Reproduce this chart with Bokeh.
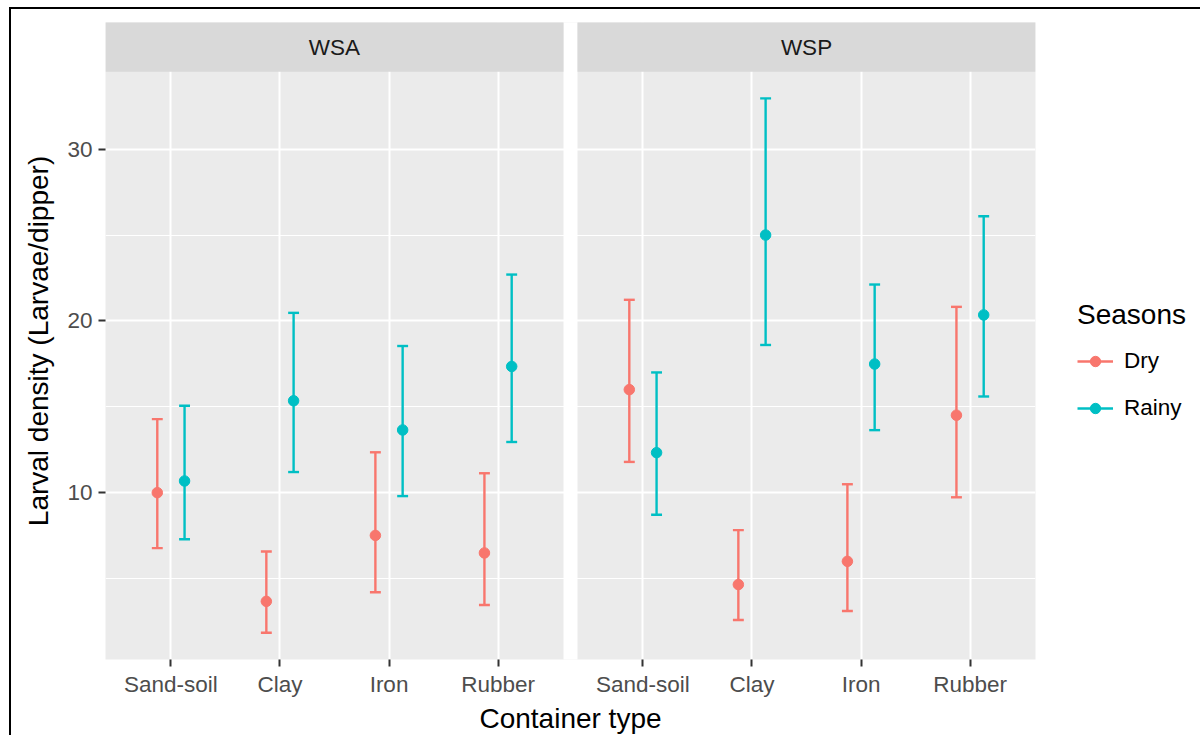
from bokeh.plotting import figure
from bokeh.layouts import column
from bokeh.models import ColumnDataSource, Range1d, FixedTicker, Legend, LegendItem
from bokeh.core.properties import value
from bokeh.embed import file_html
from bokeh.resources import INLINE

# ---------------- data ----------------
containers = ["Sand-soil", "Clay", "Iron", "Rubber"]
sites = ["WSA", "WSP"]
seasons = ["Dry", "Rainy"]
season_colors = ["#F8766D", "#00BFC4"]

wsa_dry_mean = [10.00, 3.67, 7.51, 6.49]
wsa_dry_lower = [6.77, 1.84, 4.20, 3.46]
wsa_dry_upper = [14.28, 6.57, 12.35, 11.13]

wsa_rainy_mean = [10.68, 15.35, 13.65, 17.35]
wsa_rainy_lower = [7.29, 11.20, 9.80, 12.95]
wsa_rainy_upper = [15.06, 20.47, 18.54, 22.70]

wsp_dry_mean = [16.00, 4.65, 6.00, 14.51]
wsp_dry_lower = [11.79, 2.58, 3.11, 9.73]
wsp_dry_upper = [21.23, 7.82, 10.49, 20.82]

wsp_rainy_mean = [12.33, 25.00, 17.49, 20.35]
wsp_rainy_lower = [8.71, 18.60, 13.64, 15.60]
wsp_rainy_upper = [17.00, 32.96, 22.12, 26.10]

y_ticks = [10, 20, 30]
y_minor = [5, 15, 25]

data = {
    ("WSA", "Dry"): (wsa_dry_mean, wsa_dry_lower, wsa_dry_upper),
    ("WSA", "Rainy"): (wsa_rainy_mean, wsa_rainy_lower, wsa_rainy_upper),
    ("WSP", "Dry"): (wsp_dry_mean, wsp_dry_lower, wsp_dry_upper),
    ("WSP", "Rainy"): (wsp_rainy_mean, wsp_rainy_lower, wsp_rainy_upper),
}

# ---------------- layout constants ----------------
FONT = "Liberation Sans"
PANEL_W = 457
GAP_PX = 14
PANEL_H = 586
STRIP_H = 49
DODGE = 0.125
CAP_HALF = 0.05
OFF_X, OFF_Y, BORDER = 9, 7, 2

n = len(containers)
x_lo, x_hi = 1 - 0.6, n + 0.6
panel_span = x_hi - x_lo
gap_u = GAP_PX * panel_span / PANEL_W
panel_offset = panel_span + gap_u
x_end = x_lo + 2 * panel_span + gap_u

all_low = min(min(v[1]) for v in data.values())
all_up = max(max(v[2]) for v in data.values())
yspan = all_up - all_low
y_lo = all_low - 0.05 * yspan
y_hi = all_up + 0.05 * yspan
y_top = y_hi + STRIP_H * (y_hi - y_lo) / PANEL_H

p = figure(
    frame_width=2 * PANEL_W + GAP_PX,
    frame_height=PANEL_H + STRIP_H,
    min_border_left=105 - OFF_X - BORDER, min_border_right=155,
    min_border_top=22 - OFF_Y - BORDER, min_border_bottom=78,
    x_range=Range1d(x_lo, x_end), y_range=Range1d(y_lo, y_top),
    output_backend="svg", toolbar_location=None,
    background_fill_color="#EBEBEB", border_fill_color="white",
    outline_line_color=None,
)
p.margin = (OFF_Y, 0, 0, OFF_X)
p.styles = {"border-top": f"{BORDER}px solid black", "border-left": f"{BORDER}px solid black"}

# gap between panels and strips
p.quad(left=[x_hi], right=[x_hi + gap_u], bottom=[y_lo - 5], top=[y_top + 5],
       fill_color="white", line_color=None)
strip_left = [x_lo + i * panel_offset for i in range(len(sites))]
strip_right = [x_hi + i * panel_offset for i in range(len(sites))]
p.quad(left=strip_left, right=strip_right, bottom=[y_hi] * len(sites), top=[y_top + 5] * len(sites),
       fill_color="#D9D9D9", line_color=None)
p.text(x=[(a + b) / 2 for a, b in zip(strip_left, strip_right)], y=[(y_hi + y_top) / 2] * len(sites),
       text=sites, text_align="center", text_baseline="middle",
       text_font=value(FONT), text_font_size="22.5px", text_color="#1A1A1A")

legend_items = []
for ki, season in enumerate(seasons):
    xs, means, lows, ups = [], [], [], []
    for si, site in enumerate(sites):
        m, lo, up = data[(site, season)]
        for i in range(n):
            xs.append(i + 1 + si * panel_offset + (ki - 0.5) * 2 * DODGE)
            means.append(m[i]); lows.append(lo[i]); ups.append(up[i])
    src = ColumnDataSource(dict(x=xs, mean=means, lower=lows, upper=ups,
                                cl=[x - CAP_HALF for x in xs], cr=[x + CAP_HALF for x in xs]))
    c = season_colors[ki]
    seg = p.segment(x0="x", y0="lower", x1="x", y1="upper", line_color=c, line_width=2.4, source=src)
    p.segment(x0="cl", y0="upper", x1="cr", y1="upper", line_color=c, line_width=2.4, source=src)
    p.segment(x0="cl", y0="lower", x1="cr", y1="lower", line_color=c, line_width=2.4, source=src)
    pts = p.scatter(x="x", y="mean", size=10.5, fill_color=c, line_color=c, source=src)
    legend_items.append(LegendItem(label=season, renderers=[seg, pts]))

# axes
xticks, overrides = [], {}
for si in range(len(sites)):
    for i, name in enumerate(containers):
        t = i + 1 + si * panel_offset
        xticks.append(t)
        overrides[t] = name
p.xaxis.ticker = FixedTicker(ticks=xticks)
p.xaxis.major_label_overrides = overrides
p.yaxis.ticker = FixedTicker(ticks=y_ticks, minor_ticks=y_minor)

for ax in (p.xaxis, p.yaxis):
    ax.axis_line_color = None
    ax.major_tick_line_color = "#333333"
    ax.major_tick_line_width = 2
    ax.major_tick_out = 7
    ax.major_tick_in = 0
    ax.minor_tick_line_color = None
    ax.major_label_text_font = FONT
    ax.major_label_text_font_size = "22.5px"
    ax.major_label_text_color = "#4D4D4D"
    ax.axis_label_text_font = FONT
    ax.axis_label_text_font_size = "28px"
    ax.axis_label_text_font_style = "normal"
    ax.axis_label_text_color = "black"

p.xaxis.axis_label = "Container type"
p.yaxis.axis_label = "Larval density (Larvae/dipper)"
p.xaxis.major_label_standoff = 5
p.yaxis.major_label_standoff = 6
p.xaxis.axis_label_standoff = 3
p.yaxis.axis_label_standoff = 10

p.xgrid.grid_line_color = "white"
p.xgrid.grid_line_width = 2
p.ygrid.grid_line_color = "white"
p.ygrid.grid_line_width = 2
p.ygrid.minor_grid_line_color = "white"
p.ygrid.minor_grid_line_width = 1

legend = Legend(
    items=legend_items, title="Seasons", location=(42, 238),
    glyph_width=36, glyph_height=26, label_height=26, spacing=21,
    label_standoff=11, padding=0, margin=0, title_standoff=17,
    border_line_color=None, background_fill_alpha=0,
    title_text_font=FONT, title_text_font_size="28px", title_text_font_style="normal",
    title_text_color="black",
    label_text_font=FONT, label_text_font_size="22.5px", label_text_color="black",
)
p.add_layout(legend, "right")

root = column(p)
open("out.html", "w").write(file_html(root, INLINE))
